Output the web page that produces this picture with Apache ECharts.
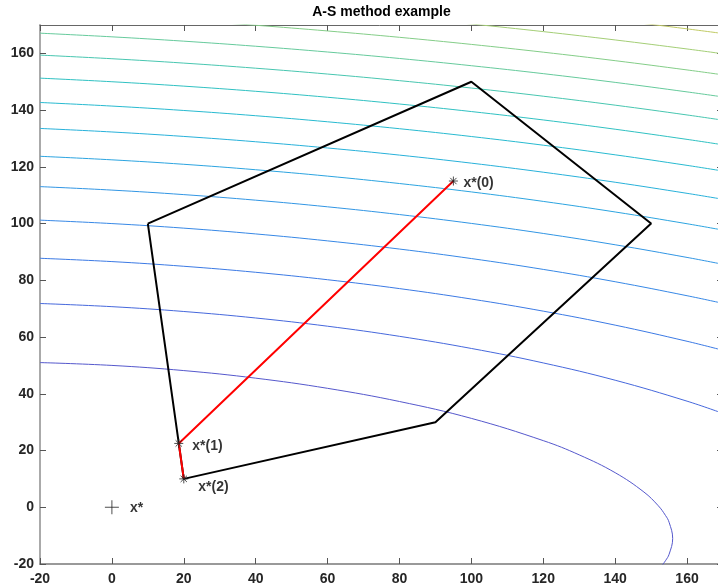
<!DOCTYPE html>
<html>
<head>
<meta charset="utf-8">
<script src="https://cdn.jsdelivr.net/npm/echarts@6/dist/echarts.min.js"></script>
<style>
html,body{margin:0;padding:0;background:#fff;}
#chart{width:718px;height:588px;}
</style>
</head>
<body>
<div id="chart"></div>
<script>
// ---------- data ----------
const titleText = 'A-S method example';
const xTicks = [-20, 0, 20, 40, 60, 80, 100, 120, 140, 160];
const yTicks = [-20, 0, 20, 40, 60, 80, 100, 120, 140, 160];

// contour levels (f = 2500, 5000, ... 35000)
const levels = [2500, 5000, 7500, 10000, 12500, 15000, 17500, 20000, 22500, 25000, 27500, 30000, 32500, 35000];
const contour1 = [[-20,51.00],[0,50.00],[20,48.18],[40,45.51],[60,41.92],[80,37.28],[100,31.33],[120,23.49],[130,18.47],[140,12.19],[148,5.37],[152,0.53],[154,-2.88],[155,-5.28],[156,-11.0],[155,-16.58],[154,-18.84],[153,-20.54]];
const contour2 = [[-20,71.83],[0,70.71],[20,69.01],[40,66.72],[60,63.82],[80,60.26],[100,55.98],[120,50.88],[140,44.78],[160,37.40],[170,33.08]];
const contour3 = [[-20,87.77],[0,86.60],[20,84.95],[40,82.83],[60,80.21],[80,77.08],[100,73.40],[120,69.13],[140,64.20],[160,58.51],[170,55.33]];
const contour4 = [[-20,101.21],[0,100.00],[20,98.39],[40,96.35],[60,93.90],[80,91.02],[100,87.67],[120,83.85],[140,79.50],[160,74.57],[170,71.87]];
const contour5 = [[-20,113.03],[0,111.80],[20,110.21],[40,108.25],[60,105.91],[80,103.18],[100,100.06],[120,96.52],[140,92.53],[160,88.07],[170,85.64]];
const contour6 = [[-20,123.72],[0,122.47],[20,120.90],[40,118.98],[60,116.73],[80,114.12],[100,111.16],[120,107.82],[140,104.09],[160,99.94],[170,97.70]];
const contour7 = [[-20,133.54],[0,132.29],[20,130.72],[40,128.84],[60,126.65],[80,124.14],[100,121.30],[120,118.11],[140,114.57],[160,110.66],[170,108.56]];
const contour8 = [[-20,142.69],[0,141.42],[20,139.87],[40,138.02],[60,135.88],[80,133.44],[100,130.69],[120,127.63],[140,124.24],[160,120.52],[170,118.52]];
const contour9 = [[-20,151.27],[0,150.00],[20,148.45],[40,146.63],[60,144.53],[80,142.15],[100,139.49],[120,136.53],[140,133.26],[160,129.68],[170,127.77]];
const contour10 = [[-20,159.39],[0,158.11],[20,156.57],[40,154.77],[60,152.71],[80,150.38],[100,147.78],[120,144.90],[140,141.74],[160,138.29],[170,136.44]];
const contour11 = [[-20,167.12],[0,165.83],[20,164.30],[40,162.51],[60,160.48],[80,158.20],[100,155.65],[120,152.85],[140,149.77],[160,146.42],[170,144.64]];
const contour12 = [[0,173.21],[20,171.68],[40,169.91],[60,167.90],[80,165.66],[100,163.16],[120,160.42],[140,157.42],[160,154.16],[170,152.43]];
const contour13 = [[60,175.02],[80,172.80],[100,170.35],[120,167.67],[140,164.73],[160,161.55],[170,159.86]];
const contour14 = [[120,174.63],[140,171.75],[150,170.22],[160,168.64],[170,166.99]];
const contours = [contour1, contour2, contour3, contour4, contour5, contour6, contour7,
                  contour8, contour9, contour10, contour11, contour12, contour13, contour14];

// feasible polygon (closed)
const polygonPts = [[10,100],[100,150],[150,100],[90,30],[20,10],[10,100]];
// iterate path
const iterPts = [[95,115],[18.6,22.5],[20,10]];
const iterNames = ['x*(0)', 'x*(1)', 'x*(2)'];
// optimum
const optPt = [0, 0];
const optName = 'x*';

// ---------- styles ----------
const contourColors = ['#5558cc','#4668dc','#3c7ae4','#3788e6','#3296e4','#2ca4e0','#28b1da',
                       '#28bad0','#30c1c2','#48c6b0','#66ca9c','#84cd88','#a4ce76','#c0ca64'];
const iterLabelOffsets = [[3, 2], [6.5, 3], [7.5, 8]];
const FONT = '"Liberation Sans", Arial, Helvetica, sans-serif';
const starPath = 'path://M5,0L5,10M0,5L10,5M1.5,1.5L8.5,8.5M8.5,1.5L1.5,8.5';
const plusPath = 'path://M7,0L7,14M0,7L14,7';

function mkAxis(position, ticks, showLabels, lineColor, lineWidth, margin) {
  return {
    type: 'value',
    position: position,
    min: -20, max: 170, interval: 20,
    splitLine: { show: false },
    axisLine: { show: true, onZero: false, lineStyle: { color: lineColor, width: lineWidth } },
    axisTick: { show: true, inside: true, length: 6, customValues: ticks,
                lineStyle: { color: '#555', width: 1 } },
    axisLabel: { show: showLabels, customValues: ticks, margin: margin,
                 fontFamily: FONT, fontWeight: 'bold', fontSize: 14, color: '#262626' }
  };
}

const chart = echarts.init(document.getElementById('chart'), null, { renderer: 'canvas' });

const series = [];
contours.forEach((d, i) => {
  series.push({
    type: 'line', name: 'f=' + levels[i], data: d, symbol: 'none', smooth: 0.4,
    lineStyle: { color: contourColors[i], width: 1 }, silent: true, z: 1, clip: true
  });
});
series.push({
  type: 'line', data: polygonPts, symbol: 'none', silent: true, z: 3,
  lineStyle: { color: '#000', width: 2 }
});
series.push({
  type: 'line', data: iterPts, symbol: 'none', silent: true, z: 4,
  lineStyle: { color: '#ff0000', width: 2 }
});
series.push({
  type: 'scatter', symbol: starPath, symbolSize: 9, silent: true, z: 5,
  itemStyle: { color: 'none', borderColor: '#222', borderWidth: 1 },
  label: { show: true, position: 'right', distance: 0, formatter: '{b}',
           fontFamily: FONT, fontWeight: 'bold', fontSize: 14, color: '#000' },
  data: iterPts.map((p, i) => ({ value: p, name: iterNames[i],
          label: { offset: iterLabelOffsets[i] } }))
});
series.push({
  type: 'scatter', symbol: plusPath, symbolSize: 14, silent: true, z: 5,
  itemStyle: { color: 'none', borderColor: '#222', borderWidth: 1 },
  label: { show: true, position: 'right', distance: 0, offset: [8.5, 1], formatter: '{b}',
           fontFamily: FONT, fontWeight: 'bold', fontSize: 14, color: '#000' },
  data: [{ value: optPt, name: optName }]
});

chart.setOption({
  animation: false,
  backgroundColor: '#fff',
  grid: { left: 40, top: 25, width: 683, height: 539, containLabel: false, outerBoundsMode: 'none' },
  xAxis: [
    mkAxis('bottom', xTicks, true, '#999', 2, 8),
    mkAxis('top', xTicks, false, '#666', 1, 8)
  ],
  yAxis: [
    mkAxis('left', yTicks, true, '#aaa', 2, 6),
    mkAxis('right', yTicks, false, '#666', 1, 6)
  ],
  graphic: [{
    type: 'text', x: 381.5, y: 12,
    style: { text: titleText, font: 'bold 14px ' + FONT, fill: '#000',
             align: 'center', verticalAlign: 'middle' }
  }],
  series: series
});
</script>
</body>
</html>
